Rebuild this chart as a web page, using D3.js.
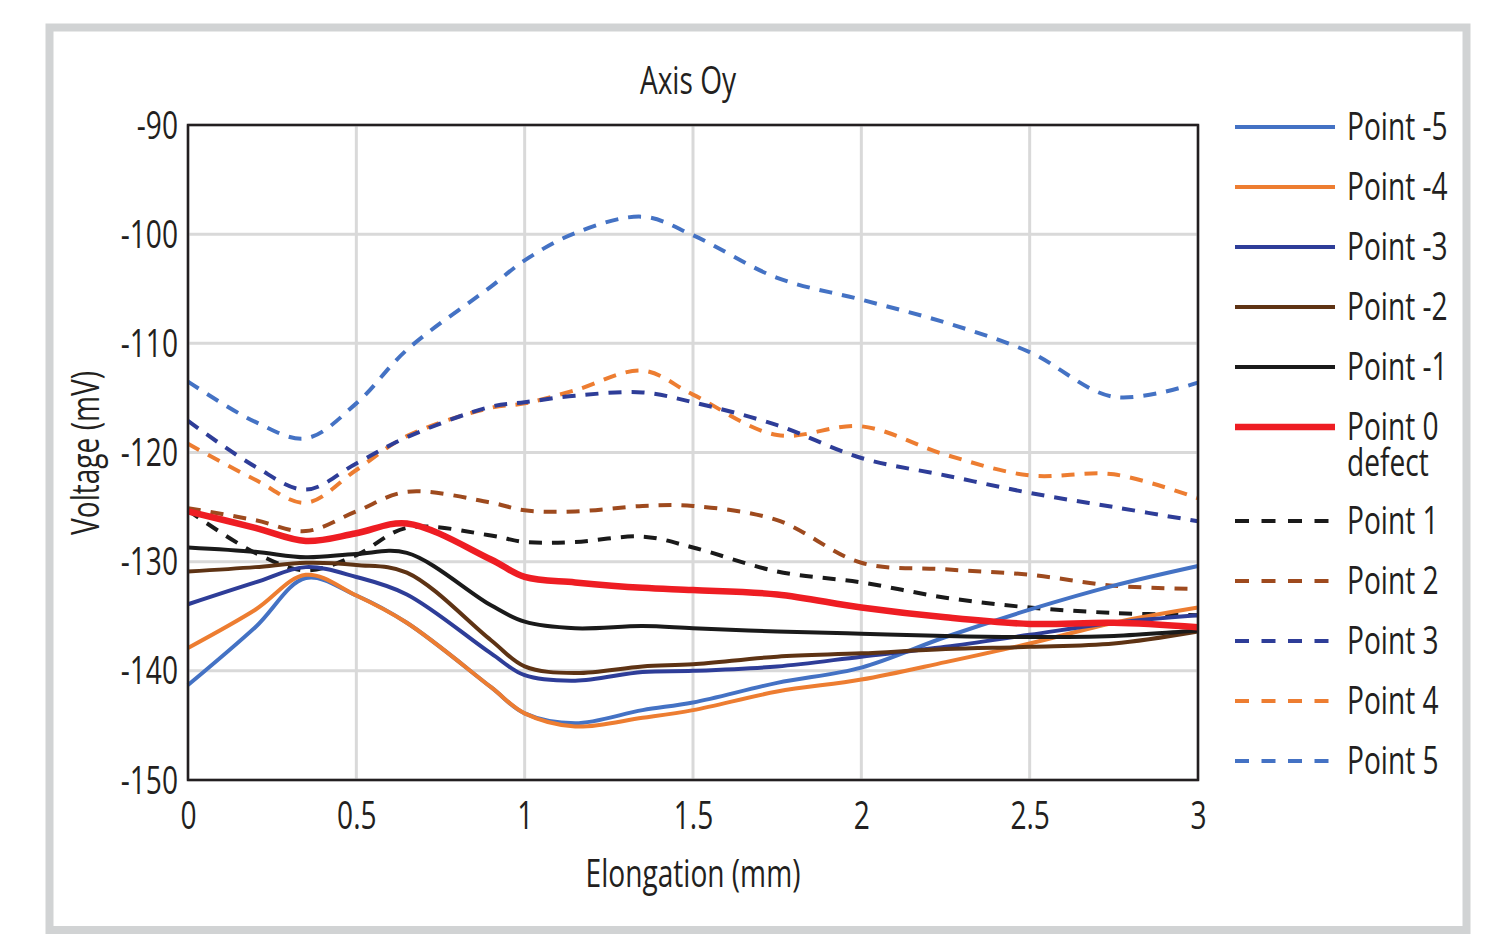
<!DOCTYPE html>
<html><head><meta charset="utf-8">
<script src="https://cdn.jsdelivr.net/npm/d3@7"></script>
<style>
html,body{margin:0;padding:0;background:#fff;}
text{font-family:"Open Sans","Noto Sans",sans-serif;fill:#231f20;}
</style></head>
<body>
<svg id="c" width="1508" height="947"></svg>
<script>
const xs = [0, 0.2, 0.35, 0.5, 0.65, 0.9, 1.0, 1.15, 1.35, 1.5, 1.75, 2.0, 2.25, 2.5, 2.75, 3.0];
const pointM5 = [-141.3,-136.0,-131.5,-133.1,-135.6,-141.5,-143.9,-144.8,-143.6,-142.9,-141.1,-139.7,-136.9,-134.4,-132.2,-130.4];
const pointM4 = [-137.9,-134.4,-131.2,-133.1,-135.6,-141.5,-143.9,-145.1,-144.3,-143.6,-141.9,-140.8,-139.2,-137.5,-135.6,-134.2];
const pointM3 = [-133.9,-131.9,-130.5,-131.4,-133.0,-138.4,-140.4,-140.9,-140.1,-140.0,-139.6,-138.7,-137.8,-136.7,-135.6,-134.9];
const pointM2 = [-130.9,-130.5,-130.1,-130.3,-131.0,-137.2,-139.6,-140.2,-139.6,-139.4,-138.7,-138.4,-138.0,-137.8,-137.5,-136.4];
const pointM1 = [-128.7,-129.1,-129.6,-129.3,-129.2,-134.0,-135.5,-136.1,-135.9,-136.1,-136.4,-136.6,-136.8,-136.9,-136.8,-136.3];
const point0  = [-125.4,-126.9,-128.1,-127.4,-126.5,-129.8,-131.4,-131.9,-132.4,-132.6,-133.0,-134.2,-135.1,-135.7,-135.6,-136.0];
const point1  = [-125.3,-129.2,-130.8,-129.4,-126.9,-127.6,-128.2,-128.2,-127.7,-128.7,-130.9,-131.9,-133.3,-134.2,-134.7,-134.9];
const point2  = [-125.1,-126.2,-127.2,-125.4,-123.6,-124.6,-125.3,-125.4,-124.9,-124.9,-126.2,-130.1,-130.7,-131.2,-132.2,-132.5];
const point3  = [-117.1,-121.3,-123.4,-121.0,-118.6,-115.8,-115.4,-114.8,-114.5,-115.4,-117.5,-120.5,-122.1,-123.7,-125.0,-126.3];
const point4  = [-119.2,-122.5,-124.6,-121.6,-118.5,-115.9,-115.5,-114.3,-112.5,-114.7,-118.4,-117.6,-120.2,-122.1,-122.0,-124.2];
const point5  = [-113.5,-117.2,-118.7,-115.5,-110.6,-104.8,-102.4,-99.9,-98.4,-100.1,-104.0,-106.0,-108.1,-110.8,-114.9,-113.6];

const seriesNames = ["Point -5","Point -4","Point -3","Point -2","Point -1","Point 0\ndefect","Point 1","Point 2","Point 3","Point 4","Point 5"];
const seriesValues = [pointM5,pointM4,pointM3,pointM2,pointM1,point0,point1,point2,point3,point4,point5];
const seriesColors = ["#4472c4","#ed7d31","#2e3d98","#5e3314","#1a1a1a","#ee1d23","#1a1a1a","#9e4a1e","#2e3d98","#ed7d31","#4472c4"];
const seriesDashed = [false,false,false,false,false,false,true,true,true,true,true];
const xTicks = [0,0.5,1,1.5,2,2.5,3];
const yTicks = [-90,-100,-110,-120,-130,-140,-150];

const FS = 38, SX = 0.74;
const svg = d3.select("#c");
function label(px, py, str, anchor, rot){
  return svg.append("text")
    .attr("transform",`translate(${px},${py})${rot?` rotate(${rot})`:""} scale(${SX},1)`)
    .attr("text-anchor",anchor||"start").style("font-size",FS+"px").text(str);
}

// outer frame
svg.append("rect").attr("x",49.5).attr("y",27.5).attr("width",1417).attr("height",902.5)
  .attr("fill","#fff").attr("stroke","#d1d3d4").attr("stroke-width",8);

const L=188,R=1198,T=125,B=780;
const x = d3.scaleLinear().domain([0,3]).range([L,R]);
const y = d3.scaleLinear().domain([-150,-90]).range([B,T]);

// grid
const g = svg.append("g");
g.selectAll("line.gx").data(xTicks).join("line").attr("class","gx")
  .attr("x1",d=>x(d)).attr("x2",d=>x(d)).attr("y1",T).attr("y2",B)
  .attr("stroke","#d9d9d9").attr("stroke-width",3);
g.selectAll("line.gy").data(yTicks).join("line").attr("class","gy")
  .attr("x1",L).attr("x2",R).attr("y1",d=>y(d)).attr("y2",d=>y(d))
  .attr("stroke","#d9d9d9").attr("stroke-width",3);

// lines
const line = d3.line().x((d,i)=>x(xs[i])).y(d=>y(d)).curve(d3.curveCatmullRom.alpha(0.5));
const order = [10,9,8,7,6,0,1,2,3,4,5];
order.forEach(k=>{
  svg.append("path").attr("d",line(seriesValues[k])).attr("fill","none")
    .attr("stroke",seriesColors[k])
    .attr("stroke-width",k===5?6.5:4)
    .attr("stroke-dasharray",seriesDashed[k]?"13,10":null)
    .attr("stroke-linejoin","round");
});

// plot border
svg.append("rect").attr("x",L).attr("y",T).attr("width",R-L).attr("height",B-T)
  .attr("fill","none").attr("stroke","#231f20").attr("stroke-width",2.5);

// axes (tick labels via d3 axes)
const ax = svg.append("g").attr("transform",`translate(0,${B})`)
  .call(d3.axisBottom(x).tickValues(xTicks).tickSize(0).tickPadding(0).tickFormat(d=>String(d)));
ax.select(".domain").remove();
ax.selectAll("text").attr("y",0).attr("dy",null)
  .attr("transform",`translate(0,49) scale(${SX},1)`)
  .style("font-size",FS+"px").style("font-family","'Open Sans',sans-serif").attr("fill","#231f20");
const ay = svg.append("g").attr("transform",`translate(${L},0)`)
  .call(d3.axisLeft(y).tickValues(yTicks).tickSize(0).tickPadding(0).tickFormat(d=>String(d)));
ay.select(".domain").remove();
ay.selectAll("text").attr("x",0).attr("dy",null)
  .attr("transform",`translate(-10,13) scale(${SX},1)`)
  .style("font-size",FS+"px").style("font-family","'Open Sans',sans-serif").attr("fill","#231f20");

// titles
label(688,94,"Axis Oy","middle");
label(693,887,"Elongation (mm)","middle");
label(99,453,"Voltage (mV)","middle",-90);

// legend
const legY = [127,187,247,307,367,427,521,581,641,701,761];
seriesNames.forEach((n,i)=>{
  const yy = legY[i];
  svg.append("line").attr("x1",1235).attr("x2",1335).attr("y1",yy).attr("y2",yy)
    .attr("stroke",seriesColors[i]).attr("stroke-width",i===5?6.5:4)
    .attr("stroke-dasharray",seriesDashed[i]?"14,12.5":null);
  n.split("\n").forEach((s,j)=>label(1347, yy+13+j*36, s, "start"));
});
</script>
</body></html>
